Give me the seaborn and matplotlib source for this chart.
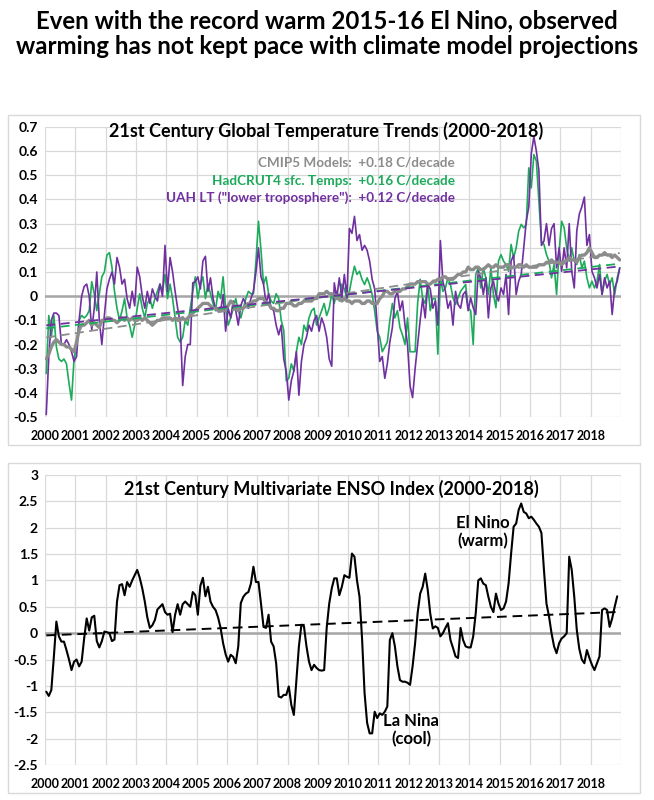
import numpy as np
import pandas as pd
import matplotlib
matplotlib.use("Agg")
import matplotlib.pyplot as plt
import seaborn as sns
from matplotlib.patches import Rectangle

sns.set_theme(style="white")
plt.rcParams["font.family"] = ["Lato", "DejaVu Sans"]
plt.rcParams["font.weight"] = "bold"

# ---------------- data (monthly, Jan 2000 onward) ----------------
uah_lt = [
    -0.49, -0.25, -0.10, -0.07, -0.07, -0.08, -0.20, -0.20, -0.18, -0.20, -0.23, -0.27,   # 2000
    -0.25, -0.10, 0.00, 0.04, 0.05, 0.00, -0.14, -0.05, 0.10, -0.10, -0.20, -0.08,        # 2001
    0.03, 0.07, 0.10, 0.05, 0.16, 0.12, 0.05, 0.07, -0.01, -0.05, 0.02, -0.04,            # 2002
    0.12, 0.08, 0.00, -0.05, 0.02, -0.03, 0.03, 0.00, -0.02, 0.05, 0.00, 0.21,            # 2003
    0.02, 0.16, 0.10, 0.02, -0.05, -0.11, -0.37, -0.25, -0.20, -0.20, 0.055, 0.06,        # 2004
    0.08, 0.03, 0.145, 0.165, 0.02, 0.076, -0.007, -0.055, -0.048, -0.062, 0.007, -0.145, # 2005
    -0.05, -0.09, -0.02, -0.06, -0.12, -0.04, -0.01, -0.03, -0.05, -0.01, 0.02, 0.10,     # 2006
    0.20, 0.08, 0.05, -0.03, 0.01, -0.05, -0.06, -0.12, -0.16, -0.12, -0.26, -0.31,       # 2007
    -0.43, -0.35, -0.31, -0.23, -0.41, -0.27, -0.20, -0.17, -0.12, -0.145, -0.10, -0.08,  # 2008
    -0.145, -0.09, -0.12, -0.17, -0.26, -0.29, 0.055, -0.007, 0.076, -0.007, 0.09, -0.007,# 2009
    0.28, 0.26, 0.33, 0.23, 0.255, 0.19, 0.21, 0.19, 0.145, 0.07, 0.03, -0.12,           # 2010
    -0.27, -0.25, -0.34, -0.28, -0.19, -0.13, -0.01, 0.02, -0.06, -0.02, -0.12, -0.20,    # 2011
    -0.37, -0.42, -0.30, -0.20, -0.10, -0.01, -0.09, 0.05, 0.03, -0.05, -0.02, -0.12,     # 2012
    0.23, 0.06, 0.02, -0.05, -0.02, -0.12, 0.02, -0.035, -0.05, 0.007, 0.02, -0.06,       # 2013
    -0.007, -0.048, -0.076, 0.103, 0.076, 0.007, 0.076, -0.09, 0.034, 0.062, 0.007, -0.02,# 2014
    0.034, 0.007, 0.09, -0.076, 0.145, 0.17, 0.007, 0.062, 0.09, 0.20, 0.31, 0.37,        # 2015
    0.59, 0.66, 0.60, 0.52, 0.21, 0.228, 0.30, 0.21, 0.28, 0.30, 0.117, 0.20,             # 2016
    0.103, 0.20, 0.117, 0.30, 0.103, 0.034, 0.27, 0.34, 0.37, 0.41, 0.21, 0.255,          # 2017
    0.103, 0.076, 0.034, 0.09, 0.007, 0.076, 0.034, 0.062, -0.076, 0.034, 0.062, 0.117,   # 2018
]

hadcrut4 = [
    -0.32, -0.08, -0.17, -0.08, -0.21, -0.26, -0.27, -0.26, -0.28, -0.36, -0.43, -0.26,   # 2000
    -0.20, -0.10, -0.08, -0.09, -0.08, -0.06, 0.06, 0.01, -0.06, 0.01, 0.08, 0.10,        # 2001
    0.17, 0.18, 0.12, 0.02, -0.05, -0.10, -0.06, -0.01, -0.09, -0.12, -0.17, -0.12,       # 2002
    -0.05, 0.01, -0.05, -0.09, -0.03, -0.01, -0.05, -0.01, 0.02, 0.05, 0.02, 0.09,        # 2003
    -0.01, 0.05, -0.01, -0.09, -0.17, -0.19, -0.17, -0.10, -0.12, -0.05, 0.02, 0.08,      # 2004
    -0.01, 0.05, 0.08, -0.01, 0.05, 0.01, -0.03, -0.06, 0.02, -0.01, 0.08, -0.05,         # 2005
    -0.12, -0.09, -0.05, -0.01, -0.06, -0.09, -0.05, -0.01, 0.02, 0.01, 0.01, 0.145,      # 2006
    0.31, 0.19, 0.05, 0.08, 0.01, -0.02, -0.03, 0.01, -0.01, -0.10, -0.14, -0.35,         # 2007
    -0.34, -0.28, -0.31, -0.23, -0.17, -0.20, -0.12, -0.145, -0.09, -0.06, -0.05, -0.12,  # 2008
    -0.09, -0.06, -0.03, -0.08, -0.05, 0.01, -0.03, 0.02, -0.02, 0.05, 0.03, -0.01,       # 2009
    0.02, 0.076, 0.124, 0.09, 0.103, 0.069, 0.048, 0.076, 0.048, 0.007, -0.062, -0.145,   # 2010
    -0.17, -0.23, -0.21, -0.19, -0.10, -0.03, -0.09, -0.06, -0.13, -0.16, -0.20, -0.09,   # 2011
    -0.23, -0.23, -0.23, -0.03, 0.07, -0.01, -0.03, 0.05, -0.06, -0.01, -0.01, -0.24,     # 2012
    0.076, 0.02, 0.034, 0.076, 0.048, -0.007, -0.034, -0.007, 0.02, 0.034, 0.048, -0.048, # 2013
    -0.06, -0.20, 0.09, 0.117, 0.034, 0.117, 0.076, 0.007, 0.117, 0.007, -0.048, 0.145,   # 2014
    0.172, 0.145, 0.131, 0.103, 0.214, 0.159, 0.20, 0.269, 0.297, 0.283, 0.297, 0.531,   # 2015
    0.448, 0.586, 0.559, 0.393, 0.228, 0.214, 0.172, 0.145, 0.076, 0.131, 0.007, 0.186,   # 2016
    0.31, 0.283, 0.20, 0.145, 0.20, 0.145, 0.131, 0.172, 0.117, 0.145, 0.076, 0.034,      # 2017
    0.062, 0.034, 0.062, 0.131, 0.007, 0.062, 0.09, 0.048, 0.076, 0.007, 0.076, 0.117,    # 2018
]

cmip5_models = [
    -0.26, -0.24, -0.21, -0.19, -0.18, -0.19, -0.20, -0.20, -0.21, -0.21, -0.22, -0.23,   # 2000
    -0.19, -0.14, -0.12, -0.12, -0.11, -0.10, -0.12, -0.11, -0.12, -0.13, -0.10, -0.10,   # 2001
    -0.09, -0.09, -0.10, -0.10, -0.11, -0.10, -0.09, -0.10, -0.09, -0.10, -0.09, -0.10,   # 2002
    -0.10, -0.09, -0.10, -0.09, -0.10, -0.11, -0.12, -0.11, -0.10, -0.10, -0.09, -0.09,   # 2003
    -0.09, -0.09, -0.10, -0.09, -0.10, -0.10, -0.09, -0.10, -0.09, -0.08, -0.07, -0.06,   # 2004
    -0.05, -0.04, -0.03, -0.03, -0.03, -0.04, -0.05, -0.05, -0.06, -0.06, -0.05, -0.05,   # 2005
    -0.04, -0.02, -0.03, -0.05, -0.06, -0.05, -0.05, -0.04, -0.03, -0.03, -0.02, -0.02,   # 2006
    -0.01, -0.01, -0.01, -0.03, -0.03, -0.05, -0.05, -0.06, -0.06, -0.05, -0.05, -0.03,   # 2007
    -0.03, -0.03, -0.04, -0.04, -0.03, -0.03, -0.02, -0.02, -0.02, -0.02, -0.01, -0.01,   # 2008
    0.01, 0.01, 0.01, 0.02, 0.01, 0.01, 0.00, -0.01, -0.01, -0.02, -0.01, -0.02,          # 2009
    -0.02, -0.03, -0.02, -0.02, -0.02, -0.03, -0.03, -0.02, -0.02, -0.03, -0.03, -0.03,   # 2010
    -0.01, 0.00, 0.02, 0.02, 0.01, 0.01, 0.02, 0.02, 0.02, 0.03, 0.03, 0.04,              # 2011
    0.05, 0.05, 0.05, 0.06, 0.06, 0.06, 0.06, 0.05, 0.05, 0.06, 0.06, 0.07,               # 2012
    0.07, 0.08, 0.08, 0.07, 0.07, 0.07, 0.08, 0.09, 0.09, 0.10, 0.10, 0.12,               # 2013
    0.11, 0.11, 0.12, 0.12, 0.11, 0.11, 0.12, 0.13, 0.12, 0.12, 0.13, 0.12,               # 2014
    0.12, 0.12, 0.13, 0.13, 0.12, 0.12, 0.12, 0.13, 0.13, 0.12, 0.13, 0.12,               # 2015
    0.12, 0.12, 0.12, 0.13, 0.13, 0.13, 0.14, 0.14, 0.15, 0.14, 0.14, 0.14,               # 2016
    0.13, 0.14, 0.15, 0.16, 0.15, 0.15, 0.14, 0.16, 0.17, 0.17, 0.18, 0.20,               # 2017
    0.18, 0.16, 0.16, 0.17, 0.17, 0.18, 0.17, 0.17, 0.16, 0.17, 0.16, 0.15,               # 2018
]

enso_mei = [
    -1.11, -1.19, -1.08, -0.45, 0.22, -0.06, -0.16, -0.16, -0.32, -0.50, -0.70, -0.54,    # 2000
    -0.50, -0.63, -0.54, -0.10, 0.28, 0.05, 0.30, 0.33, -0.15, -0.27, -0.15, 0.03,        # 2001
    0.02, 0.00, -0.15, -0.12, 0.60, 0.91, 0.93, 0.72, 0.97, 0.88, 1.00, 1.10,             # 2002
    1.20, 1.05, 0.85, 0.60, 0.30, 0.10, 0.15, 0.25, 0.45, 0.50, 0.55, 0.40,               # 2003
    0.35, 0.37, 0.02, 0.35, 0.55, 0.35, 0.55, 0.60, 0.55, 0.50, 0.78, 0.72,               # 2004
    0.35, 0.90, 1.05, 0.70, 0.88, 0.60, 0.50, 0.44, 0.30, 0.10, -0.19, -0.40,             # 2005
    -0.54, -0.41, -0.45, -0.57, -0.25, 0.57, 0.69, 0.75, 0.78, 0.94, 1.26, 0.97,          # 2006
    0.97, 0.56, 0.12, 0.10, 0.35, -0.16, -0.25, -0.57, -1.20, -1.22, -1.17, -1.17,        # 2007
    -1.01, -1.36, -1.55, -0.89, -0.25, 0.16, 0.13, -0.25, -0.54, -0.70, -0.60, -0.66,     # 2008
    -0.70, -0.71, -0.70, 0.10, 0.56, 0.85, 1.04, 1.04, 0.72, 0.88, 1.10, 1.07,            # 2009
    1.05, 1.51, 1.45, 1.00, 0.69, -0.10, -1.14, -1.70, -1.90, -1.90, -1.49, -1.61,        # 2010
    -1.52, -1.55, -1.49, -1.39, -0.13, 0.00, -0.25, -0.63, -0.89, -0.92, -0.92, -0.94,    # 2011
    -0.98, -0.63, -0.19, 0.38, 0.75, 0.88, 1.13, 0.82, 0.37, 0.09, 0.13, 0.10,            # 2012
    -0.06, 0.00, 0.10, 0.19, -0.13, -0.28, -0.44, -0.47, 0.10, -0.13, -0.25, -0.27,       # 2013
    -0.27, -0.06, 0.38, 1.00, 1.04, 0.94, 0.91, 0.69, 0.50, 0.40, 0.75, 0.56,             # 2014
    0.44, 0.47, 0.60, 0.94, 1.51, 2.02, 2.08, 2.34, 2.46, 2.30, 2.27, 2.18,               # 2015
    2.21, 2.15, 2.08, 2.02, 1.90, 1.20, 0.56, 0.32, 0.00, -0.25, -0.38, -0.19,            # 2016
    -0.10, -0.06, 0.00, 1.45, 1.20, 0.69, 0.06, -0.30, -0.50, -0.57, -0.32, -0.47,        # 2017
    -0.60, -0.70, -0.57, -0.44, 0.44, 0.47, 0.44, 0.12, 0.28, 0.50, 0.70,                 # 2018
]

year_labels = [str(y) for y in range(2000, 2019)]
temp_ticks = [-0.5, -0.4, -0.3, -0.2, -0.1, 0, 0.1, 0.2, 0.3, 0.4, 0.5, 0.6, 0.7]
enso_ticks = [-2.5, -2, -1.5, -1, -0.5, 0, 0.5, 1, 1.5, 2, 2.5, 3]

temp_labels = {
    "CMIP5": "CMIP5 Models:  +0.18 C/decade",
    "HadCRUT4": "HadCRUT4 sfc. Temps:  +0.16 C/decade",
    "UAH": 'UAH LT ("lower troposphere"):  +0.12 C/decade',
}

# ---------------- styling ----------------
C_GRAY = "#8c8c8c"
C_GREEN = "#1dab5b"
C_PURPLE = "#7030a0"
GRID = "#d9d9d9"
ZERO = "#a6a6a6"


def to_frame(values):
    n = np.arange(len(values))
    return pd.DataFrame({"year": 2000 + (n + 0.5) / 12.0, "value": values})


def trend_frame(df):
    k, b = np.polyfit(df["year"], df["value"], 1)
    xs = np.array([df["year"].iloc[0], df["year"].iloc[-1]])
    return pd.DataFrame({"year": xs, "value": k * xs + b})


W, H = 654, 800
fig = plt.figure(figsize=(W / 100, H / 100), dpi=100)
fig.patch.set_facecolor("white")

fig.text(0.5, 1 - 34 / H,
         "Even with the record warm 2015-16 El Nino, observed\n"
         "warming has not kept pace with climate model projections",
         ha="center", va="center", fontsize=17.3, fontweight="bold",
         linespacing=1.15, color="black")

# panel boxes
for (y0, y1) in [(115, 445), (463, 793)]:
    fig.add_artist(Rectangle((8 / W, 1 - y1 / H), (640 - 8) / W, (y1 - y0) / H,
                             transform=fig.transFigure, fill=False,
                             edgecolor=GRID, lw=1.0))

ax1 = fig.add_axes([45 / W, 1 - 417 / H, 576 / W, 290 / H])
ax2 = fig.add_axes([45 / W, 1 - 765 / H, 576 / W, 290 / H])


def style_axis(ax, yticks, ylim):
    ax.set_xlim(2000, 2019)
    ax.set_ylim(*ylim)
    ax.set_xticks(list(range(2000, 2020)))
    ax.set_xticklabels(year_labels + [""])
    ax.set_yticks(yticks)
    ax.set_yticklabels([f"{t:g}" for t in yticks])
    ax.grid(True, color=GRID, lw=0.9)
    ax.set_axisbelow(True)
    for s in ax.spines.values():
        s.set_visible(False)
    ax.tick_params(axis="both", length=0, colors="black")
    ax.tick_params(axis="x", pad=9, labelsize=9)
    ax.tick_params(axis="y", pad=5, labelsize=10)
    ax.set_xlabel("")
    ax.set_ylabel("")
    ax.axhline(0, color=ZERO, lw=1.8, zorder=1)


# ---------------- top panel ----------------
d_uah = to_frame(uah_lt)
d_had = to_frame(hadcrut4)
d_cmip = to_frame(cmip5_models)

sns.lineplot(data=d_had, x="year", y="value", ax=ax1, color=C_GREEN, lw=1.2, zorder=3)
sns.lineplot(data=d_uah, x="year", y="value", ax=ax1, color=C_PURPLE, lw=1.2, zorder=3)
sns.lineplot(data=d_cmip, x="year", y="value", ax=ax1, color=C_GRAY, lw=2.4, zorder=4)
for d, c in [(d_cmip, C_GRAY), (d_had, C_GREEN), (d_uah, C_PURPLE)]:
    sns.lineplot(data=trend_frame(d), x="year", y="value", ax=ax1, color=c,
                 lw=1.3, linestyle=(0, (5, 3)), zorder=5)
style_axis(ax1, temp_ticks, (-0.5, 0.7))

ax1.text(0.488, 0.985, "21st Century Global Temperature Trends (2000-2018)",
         transform=ax1.transAxes, ha="center", va="center",
         fontsize=13, fontweight="bold", color="black", zorder=6)
for txt, c, yy in [(temp_labels["CMIP5"], C_GRAY, 0.876),
                   (temp_labels["HadCRUT4"], C_GREEN, 0.814),
                   (temp_labels["UAH"], C_PURPLE, 0.755)]:
    ax1.text(0.712, yy, txt, transform=ax1.transAxes, ha="right", va="center",
             fontsize=9.7, fontweight="bold", color=c, zorder=6)

# ---------------- bottom panel ----------------
d_enso = to_frame(enso_mei)
sns.lineplot(data=d_enso, x="year", y="value", ax=ax2, color="black", lw=1.5, zorder=3)
sns.lineplot(data=trend_frame(d_enso), x="year", y="value", ax=ax2, color="black",
             lw=1.4, linestyle=(0, (5, 3)), zorder=4)
style_axis(ax2, enso_ticks, (-2.5, 3))

ax2.text(0.4965, 0.952, "21st Century Multivariate ENSO Index (2000-2018)",
         transform=ax2.transAxes, ha="center", va="center",
         fontsize=13, fontweight="bold", color="black", zorder=6)
ax2.text(2014.45, 1.92, "El Nino\n(warm)", ha="center", va="center",
         fontsize=12, fontweight="bold", color="black", linespacing=1.15, zorder=6)
ax2.text(2012.08, -1.84, "La Nina\n(cool)", ha="center", va="center",
         fontsize=12, fontweight="bold", color="black", linespacing=1.15, zorder=6)

fig.savefig("out.png", dpi=100, facecolor="white")
